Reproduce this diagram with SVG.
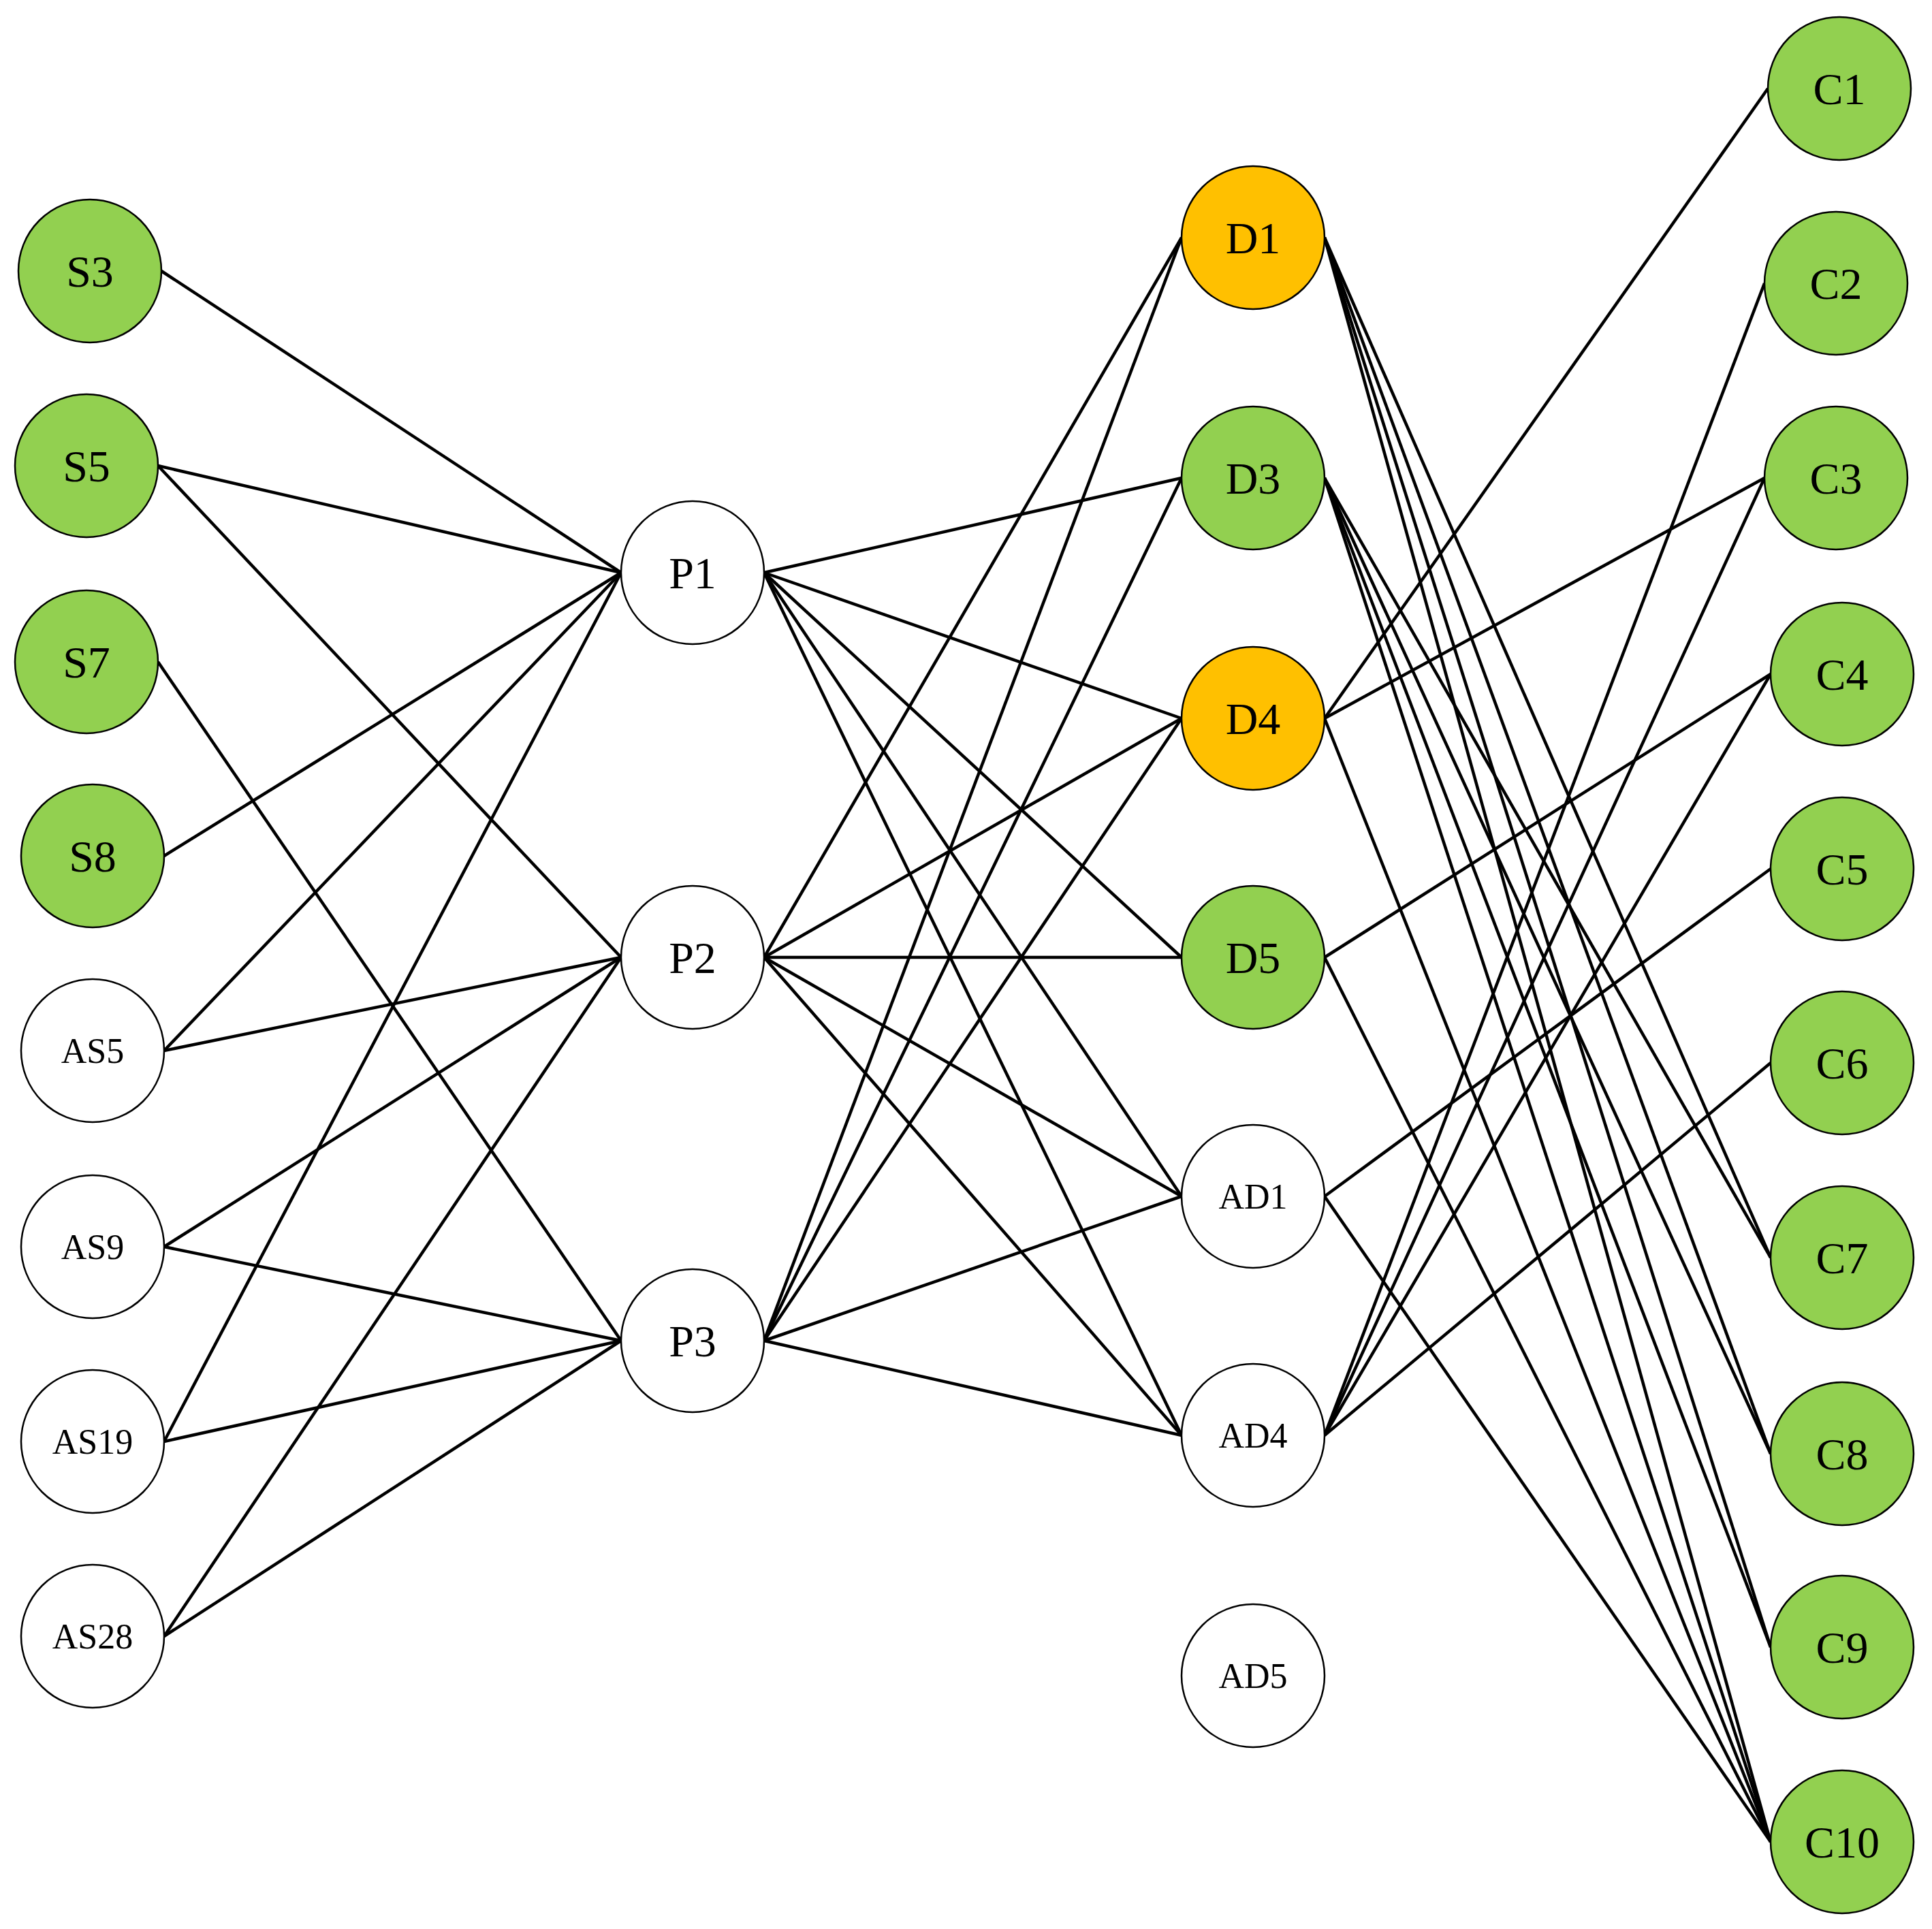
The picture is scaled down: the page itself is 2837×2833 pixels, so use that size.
<svg xmlns="http://www.w3.org/2000/svg" width="2837" height="2833" viewBox="0 0 2837 2833">
<style>
.n{stroke:#000;stroke-width:2.5}
.g{fill:#92D050}.o{fill:#FFC000}.w{fill:#fff}
text{font-family:"Liberation Serif","Noto Sans CJK SC",serif;text-anchor:middle;dominant-baseline:central;fill:#000}
.b{font-size:66px}.s{font-size:52px}
#edges line{stroke:#000;stroke-width:4.5}
</style>
<rect width="2837" height="2833" fill="#fff"/>
<g id="edges">
<line x1="237" y1="398" x2="912" y2="841"/>
<line x1="232" y1="684" x2="912" y2="841"/>
<line x1="232" y1="684" x2="912" y2="1406"/>
<line x1="232" y1="972" x2="912" y2="1969"/>
<line x1="241" y1="1257" x2="912" y2="841"/>
<line x1="241" y1="1543" x2="912" y2="841"/>
<line x1="241" y1="1543" x2="912" y2="1406"/>
<line x1="241" y1="1831" x2="912" y2="1406"/>
<line x1="241" y1="1831" x2="912" y2="1969"/>
<line x1="241" y1="2117" x2="912" y2="841"/>
<line x1="241" y1="2117" x2="912" y2="1969"/>
<line x1="241" y1="2403" x2="912" y2="1406"/>
<line x1="241" y1="2403" x2="912" y2="1969"/>
<line x1="1122" y1="841" x2="1735" y2="702"/>
<line x1="1122" y1="841" x2="1735" y2="1055"/>
<line x1="1122" y1="841" x2="1735" y2="1406"/>
<line x1="1122" y1="841" x2="1735" y2="1757"/>
<line x1="1122" y1="841" x2="1735" y2="2108"/>
<line x1="1122" y1="1406" x2="1735" y2="349"/>
<line x1="1122" y1="1406" x2="1735" y2="1055"/>
<line x1="1122" y1="1406" x2="1735" y2="1406"/>
<line x1="1122" y1="1406" x2="1735" y2="1757"/>
<line x1="1122" y1="1406" x2="1735" y2="2108"/>
<line x1="1122" y1="1969" x2="1735" y2="349"/>
<line x1="1122" y1="1969" x2="1735" y2="702"/>
<line x1="1122" y1="1969" x2="1735" y2="1055"/>
<line x1="1122" y1="1969" x2="1735" y2="1757"/>
<line x1="1122" y1="1969" x2="1735" y2="2108"/>
<line x1="1945" y1="349" x2="2600" y2="1847"/>
<line x1="1945" y1="349" x2="2600" y2="2135"/>
<line x1="1945" y1="349" x2="2600" y2="2419"/>
<line x1="1945" y1="349" x2="2600" y2="2705"/>
<line x1="1945" y1="702" x2="2600" y2="1847"/>
<line x1="1945" y1="702" x2="2600" y2="2135"/>
<line x1="1945" y1="702" x2="2600" y2="2419"/>
<line x1="1945" y1="702" x2="2600" y2="2705"/>
<line x1="1945" y1="1055" x2="2596" y2="130"/>
<line x1="1945" y1="1055" x2="2591" y2="702"/>
<line x1="1945" y1="1055" x2="2600" y2="2705"/>
<line x1="1945" y1="1406" x2="2600" y2="990"/>
<line x1="1945" y1="1406" x2="2600" y2="2705"/>
<line x1="1945" y1="1757" x2="2600" y2="1276"/>
<line x1="1945" y1="1757" x2="2600" y2="2705"/>
<line x1="1945" y1="2108" x2="2591" y2="416"/>
<line x1="1945" y1="2108" x2="2591" y2="702"/>
<line x1="1945" y1="2108" x2="2600" y2="990"/>
<line x1="1945" y1="2108" x2="2600" y2="1561"/>
</g>
<g id="S3"><circle class="n g" cx="132" cy="398" r="105"/><text class="b" x="132" y="398">S3</text></g>
<g id="S5"><circle class="n g" cx="127" cy="684" r="105"/><text class="b" x="127" y="684">S5</text></g>
<g id="S7"><circle class="n g" cx="127" cy="972" r="105"/><text class="b" x="127" y="972">S7</text></g>
<g id="S8"><circle class="n g" cx="136" cy="1257" r="105"/><text class="b" x="136" y="1257">S8</text></g>
<g id="AS5"><circle class="n w" cx="136" cy="1543" r="105"/><text class="s" x="136" y="1543">AS5</text></g>
<g id="AS9"><circle class="n w" cx="136" cy="1831" r="105"/><text class="s" x="136" y="1831">AS9</text></g>
<g id="AS19"><circle class="n w" cx="136" cy="2117" r="105"/><text class="s" x="136" y="2117">AS19</text></g>
<g id="AS28"><circle class="n w" cx="136" cy="2403" r="105"/><text class="s" x="136" y="2403">AS28</text></g>
<g id="P1"><circle class="n w" cx="1017" cy="841" r="105"/><text class="b" x="1017" y="841">P1</text></g>
<g id="P2"><circle class="n w" cx="1017" cy="1406" r="105"/><text class="b" x="1017" y="1406">P2</text></g>
<g id="P3"><circle class="n w" cx="1017" cy="1969" r="105"/><text class="b" x="1017" y="1969">P3</text></g>
<g id="D1"><circle class="n o" cx="1840" cy="349" r="105"/><text class="b" x="1840" y="349">D1</text></g>
<g id="D3"><circle class="n g" cx="1840" cy="702" r="105"/><text class="b" x="1840" y="702">D3</text></g>
<g id="D4"><circle class="n o" cx="1840" cy="1055" r="105"/><text class="b" x="1840" y="1055">D4</text></g>
<g id="D5"><circle class="n g" cx="1840" cy="1406" r="105"/><text class="b" x="1840" y="1406">D5</text></g>
<g id="AD1"><circle class="n w" cx="1840" cy="1757" r="105"/><text class="s" x="1840" y="1757">AD1</text></g>
<g id="AD4"><circle class="n w" cx="1840" cy="2108" r="105"/><text class="s" x="1840" y="2108">AD4</text></g>
<g id="AD5"><circle class="n w" cx="1840" cy="2461" r="105"/><text class="s" x="1840" y="2461">AD5</text></g>
<g id="C1"><circle class="n g" cx="2701" cy="130" r="105"/><text class="b" x="2701" y="130">C1</text></g>
<g id="C2"><circle class="n g" cx="2696" cy="416" r="105"/><text class="b" x="2696" y="416">C2</text></g>
<g id="C3"><circle class="n g" cx="2696" cy="702" r="105"/><text class="b" x="2696" y="702">C3</text></g>
<g id="C4"><circle class="n g" cx="2705" cy="990" r="105"/><text class="b" x="2705" y="990">C4</text></g>
<g id="C5"><circle class="n g" cx="2705" cy="1276" r="105"/><text class="b" x="2705" y="1276">C5</text></g>
<g id="C6"><circle class="n g" cx="2705" cy="1561" r="105"/><text class="b" x="2705" y="1561">C6</text></g>
<g id="C7"><circle class="n g" cx="2705" cy="1847" r="105"/><text class="b" x="2705" y="1847">C7</text></g>
<g id="C8"><circle class="n g" cx="2705" cy="2135" r="105"/><text class="b" x="2705" y="2135">C8</text></g>
<g id="C9"><circle class="n g" cx="2705" cy="2419" r="105"/><text class="b" x="2705" y="2419">C9</text></g>
<g id="C10"><circle class="n g" cx="2705" cy="2705" r="105"/><text class="b" x="2705" y="2705">C10</text></g>
</svg>
